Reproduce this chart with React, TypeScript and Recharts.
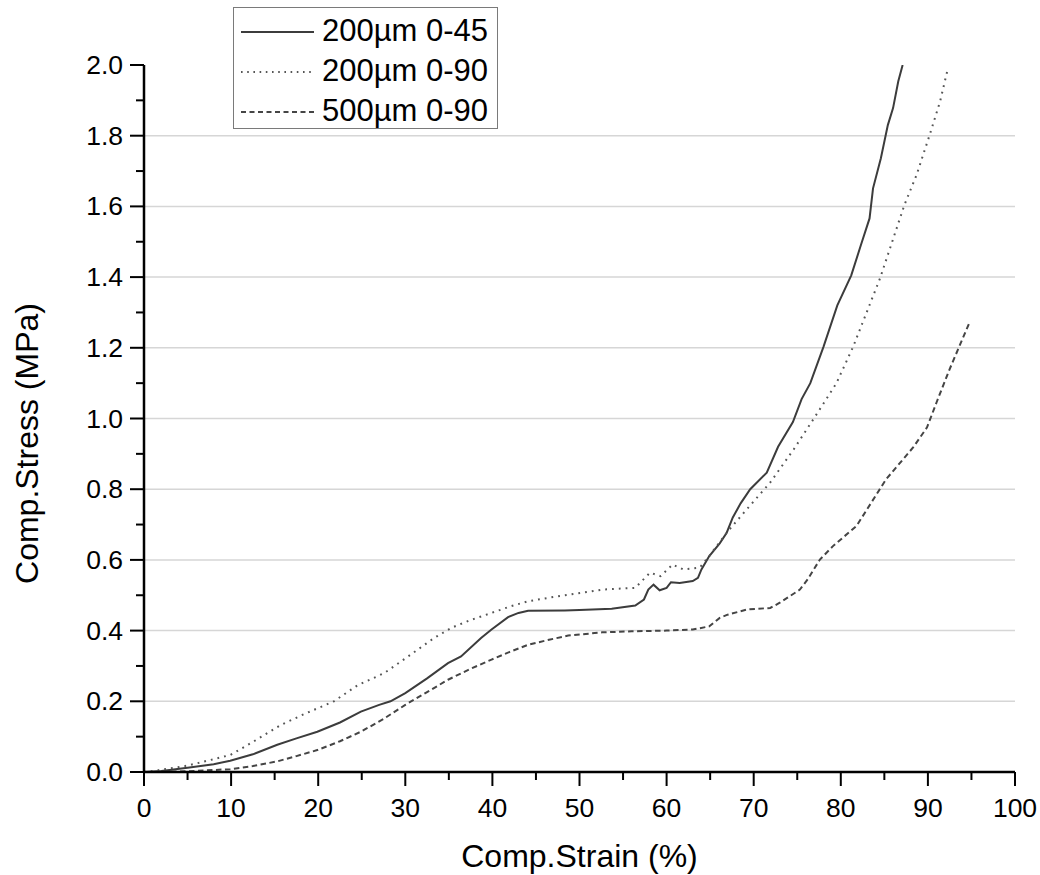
import { LineChart, Line, XAxis, YAxis, ReferenceLine, Label } from 'recharts';

// strain (%) / stress (MPa)
const solidStrain = [0, 2, 5, 8, 9.9, 12.5, 15.3, 17.5, 19.9, 22.5, 24.9, 27, 28.3, 30, 32.5, 34.9, 36.4, 38.7, 39.9, 41.8, 43, 44.1, 48.3, 50, 53.7, 56.4, 57.4, 57.9, 58.5, 59.2, 60, 60.5, 61.5, 63, 63.6, 64, 64.9, 66.1, 66.9, 67.6, 68.5, 69.6, 71.5, 72.8, 74.5, 75.5, 76.5, 78, 79.6, 81.2, 82.3, 83.3, 83.7, 84.6, 85.4, 86, 86.6, 87.1];
const solidStress = [0, 0.003, 0.012, 0.022, 0.032, 0.05, 0.077, 0.095, 0.114, 0.14, 0.171, 0.19, 0.2, 0.223, 0.265, 0.308, 0.327, 0.379, 0.403, 0.438, 0.45, 0.456, 0.457, 0.458, 0.462, 0.471, 0.488, 0.516, 0.53, 0.514, 0.521, 0.537, 0.535, 0.54, 0.549, 0.573, 0.611, 0.647, 0.677, 0.72, 0.76, 0.8, 0.847, 0.92, 0.99, 1.055, 1.1, 1.202, 1.32, 1.405, 1.49, 1.566, 1.651, 1.736, 1.83, 1.878, 1.954, 2.0];

const dottedStrain = [0, 1.4, 5, 9.9, 12.5, 15.7, 18.5, 21.8, 24.5, 27.6, 30.5, 33.3, 35.3, 37.5, 39.9, 42, 44.1, 47, 50.3, 52.6, 56.4, 58.1, 59.3, 60.7, 61.9, 63.8, 64.9, 66.9, 69.2, 71.9, 74.6, 77.3, 79.5, 81.4, 84.5, 87.3, 88.7, 90.2, 91.4, 92.3];
const dottedStress = [0, 0.004, 0.018, 0.048, 0.085, 0.133, 0.165, 0.2, 0.245, 0.28, 0.33, 0.379, 0.408, 0.43, 0.45, 0.468, 0.483, 0.495, 0.507, 0.516, 0.521, 0.564, 0.554, 0.587, 0.573, 0.578, 0.611, 0.677, 0.743, 0.819, 0.913, 1.015, 1.1, 1.202, 1.396, 1.604, 1.689, 1.802, 1.897, 1.991];

const dashedStrain = [0, 1.4, 5, 9.9, 12.5, 15.3, 17.5, 19.9, 22.5, 24.9, 27.5, 30, 32.5, 34.9, 37.5, 39.9, 42, 44.1, 46.5, 48.7, 52.6, 56, 60, 63, 64.9, 66.1, 67, 69.3, 71.9, 73, 75.3, 76.2, 77.6, 79.1, 81.8, 83.5, 85.2, 88.3, 89.9, 91, 92.5, 94.8];
const dashedStress = [0, 0, 0.002, 0.008, 0.017, 0.03, 0.045, 0.062, 0.087, 0.114, 0.15, 0.19, 0.226, 0.261, 0.292, 0.318, 0.34, 0.36, 0.374, 0.386, 0.395, 0.398, 0.4, 0.403, 0.412, 0.436, 0.445, 0.46, 0.464, 0.479, 0.516, 0.545, 0.601, 0.639, 0.696, 0.762, 0.828, 0.918, 0.975, 1.046, 1.14, 1.273];

const seriesNames = ['200µm 0-45', '200µm 0-90', '500µm 0-90'];

const xTicks = [0, 5, 10, 15, 20, 25, 30, 35, 40, 45, 50, 55, 60, 65, 70, 75, 80, 85, 90, 95, 100];
const yTicks = [0, 0.1, 0.2, 0.3, 0.4, 0.5, 0.6, 0.7, 0.8, 0.9, 1.0, 1.1, 1.2, 1.3, 1.4, 1.5, 1.6, 1.7, 1.8, 1.9, 2.0];
const gridLines = [0.2, 0.4, 0.6, 0.8, 1.0, 1.2, 1.4, 1.6, 1.8];

const FONT = '"Liberation Sans", Arial, sans-serif';

const toRows = (xs: number[], ys: number[]) => xs.map((x, i) => ({ strain: x, stress: ys[i] }));

const styles = [
  { stroke: '#3c3c3c', dash: undefined, legendDash: undefined },
  { stroke: '#555555', dash: '1.8 5', legendDash: '1.6 4.6' },
  { stroke: '#454545', dash: '5.5 3.5', legendDash: '5 3.5' },
];

const XTick = (props: any) => {
  const { x, y, payload } = props;
  const major = payload.value % 10 === 0;
  return (
    <g>
      <line x1={x} x2={x} y1={y} y2={y + (major ? 14 : 8)} stroke="#000" strokeWidth={2} />
      {major && (
        <text x={x} y={y + 45} textAnchor="middle" fontSize={26.5} fontFamily={FONT} fill="#000">
          {payload.value}
        </text>
      )}
    </g>
  );
};

const YTick = (props: any) => {
  const { x, y, payload } = props;
  const major = Math.round(payload.value * 10) % 2 === 0;
  return (
    <g>
      <line x1={x - (major ? 14 : 8)} x2={x} y1={y} y2={y} stroke="#000" strokeWidth={2} />
      {major && (
        <text x={x - 21} y={y + 9} textAnchor="end" fontSize={26.5} fontFamily={FONT} fill="#000">
          {Number(payload.value).toFixed(1)}
        </text>
      )}
    </g>
  );
};

const StressTitle = (props: any) => {
  const vb = props.viewBox;
  const cx = 38;
  const cy = vb.y + vb.height / 2 + 25;
  return (
    <text x={cx} y={cy} transform={`rotate(-90, ${cx}, ${cy})`} textAnchor="middle" fontSize={32} fontFamily={FONT} fill="#000">
      Comp.Stress (MPa)
    </text>
  );
};

const StrainTitle = (props: any) => {
  const vb = props.viewBox;
  return (
    <text x={vb.x + vb.width / 2} y={867} textAnchor="middle" fontSize={32} fontFamily={FONT} fill="#000">
      Comp.Strain (%)
    </text>
  );
};

export default function App() {
  const series = [toRows(solidStrain, solidStress), toRows(dottedStrain, dottedStress), toRows(dashedStrain, dashedStress)];

  return (
    <div style={{ position: 'absolute', left: 0, top: 0, width: 1040, height: 875, overflow: 'hidden', fontFamily: FONT, background: '#fff' }}>
      <style>{'html, body { margin: 0; padding: 0; overflow: hidden; }'}</style>
      <LineChart width={1040} height={875} margin={{ top: 65, right: 25, bottom: 43, left: 64 }} style={{ overflow: 'visible' }}>
        {gridLines.map((v) => (
          <ReferenceLine key={v} y={v} stroke="#d6d6d6" strokeWidth={1.5} />
        ))}
        <XAxis
          dataKey="strain"
          type="number"
          domain={[0, 100]}
          ticks={xTicks}
          interval={0}
          height={60}
          tickSize={0}
          tickMargin={0}
          tickLine={false}
          tick={<XTick />}
          axisLine={{ stroke: '#000', strokeWidth: 2.5 }}
          allowDataOverflow
        >
          <Label content={<StrainTitle />} />
        </XAxis>
        <YAxis
          type="number"
          domain={[0, 2]}
          ticks={yTicks}
          interval={0}
          width={80}
          tickSize={0}
          tickMargin={0}
          tickLine={false}
          tick={<YTick />}
          axisLine={{ stroke: '#000', strokeWidth: 2.5 }}
          allowDataOverflow
        >
          <Label content={<StressTitle />} />
        </YAxis>
        {series.map((rows, i) => (
          <Line
            key={seriesNames[i]}
            data={rows}
            dataKey="stress"
            name={seriesNames[i]}
            type="linear"
            stroke={styles[i].stroke}
            strokeWidth={2}
            strokeDasharray={styles[i].dash}
            dot={false}
            activeDot={false}
            isAnimationActive={false}
          />
        ))}
      </LineChart>
      <div
        style={{
          position: 'absolute',
          left: 233,
          top: 7,
          width: 265,
          height: 122,
          boxSizing: 'border-box',
          border: '1.5px solid #7a7a7a',
          background: '#fff',
          paddingTop: 3,
        }}
      >
        {seriesNames.map((name, i) => (
          <div key={name} style={{ display: 'flex', alignItems: 'center', height: 40 }}>
            <svg width={88} height={40} style={{ flex: 'none' }}>
              <line x1={7} x2={80} y1={21} y2={21} stroke={styles[i].stroke} strokeWidth={2} strokeDasharray={styles[i].legendDash} />
            </svg>
            <span style={{ fontSize: 31, lineHeight: '40px', color: '#000', whiteSpace: 'nowrap' }}>{name}</span>
          </div>
        ))}
      </div>
    </div>
  );
}
